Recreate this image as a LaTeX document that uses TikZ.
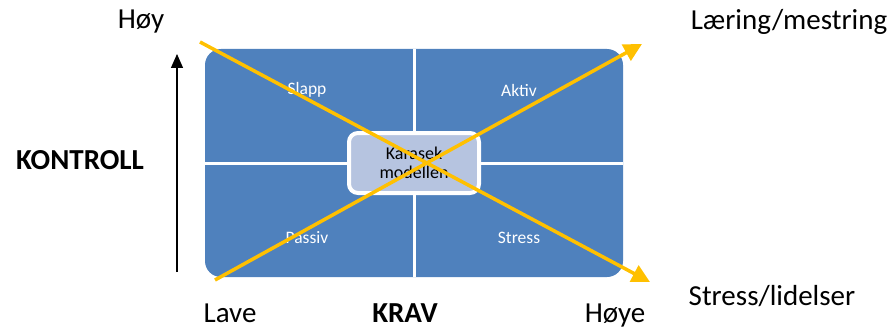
\documentclass[tikz,border=0pt]{standalone}
\usepackage{fontspec}
\setmainfont{Carlito}
\usetikzlibrary{arrows.meta}
\definecolor{qblue}{HTML}{4F81BD}
\definecolor{qlight}{HTML}{B6C4E0}
\definecolor{qorange}{HTML}{FFC000}
\tikzset{
  big/.style={font=\fontsize{29}{33}\selectfont, text=black, inner sep=0pt},
  bigb/.style={big, font=\fontsize{29}{33}\selectfont\bfseries},
  quad/.style={font=\fontsize{17.5}{20}\selectfont, text=white, inner sep=0pt},
  diag/.style={qorange, line width=3.5pt, -{Triangle[length=18pt,width=18pt]}, shorten >=0pt},
}
\begin{document}
\begin{tikzpicture}[x=1pt,y=-1pt]
\useasboundingbox (0,0) rectangle (892,329);
% main rounded block
\fill[qblue, rounded corners=16pt] (205,49) rectangle (623,277);
\draw[white, line width=3pt] (414,49) -- (414,277);
\draw[white, line width=3pt] (205,163) -- (623,163);
\node[draw=white, line width=4pt, fill=qlight, rounded corners=9pt, minimum width=130pt, minimum height=60pt, inner sep=0pt, align=center, font=\fontsize{18}{19}\selectfont] (center) at (414,163) {Karasek\\modellen};
% quadrant labels
\node[quad] (slapp) at (307,90) {Slapp};
\node[quad] (aktiv) at (519,90) {Aktiv};
\node[quad] (passiv) at (307,238) {Passiv};
\node[quad] (stress) at (519,238) {Stress};
% diagonals
\coordinate (d1s) at (200,42);
\coordinate (d1e) at (650,282);
\coordinate (d2s) at (215,280);
\coordinate (d2e) at (642,44);
\draw[diag] (d1s) -- (d1e);
\draw[diag] (d2s) -- (d2e);
% vertical axis arrow
\coordinate (as) at (177,272);
\coordinate (ae) at (177,54);
\draw[black, line width=1.3pt, -{Triangle[length=14pt,width=12pt]}] (as) -- (ae);
% labels
\node[big] (hoy) at (141,22) {Høy};
\node[big] (lm) at (789,22) {Læring/mestring};
\node[bigb] (kontroll) at (80,160) {KONTROLL};
\node[big] (sl) at (772,296) {Stress/lidelser};
\node[big, anchor=base] (lave) at (230,322) {Lave};
\node[bigb, anchor=base] (krav) at (405,322) {KRAV};
\node[big, anchor=base] (hoye) at (615,322) {Høye};
\end{tikzpicture}
\end{document}
